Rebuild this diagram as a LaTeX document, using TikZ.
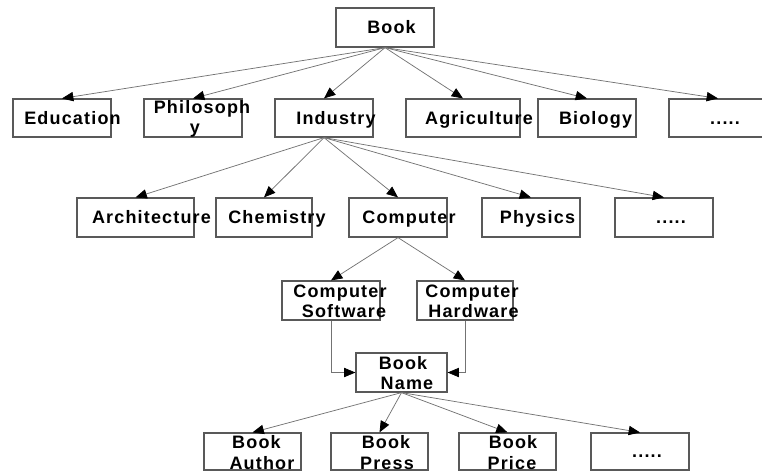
\documentclass[tikz,border=0pt]{standalone}
\usepackage{fontspec}
\newfontfamily\lblfont[LetterSpace=6.5]{Liberation Sans}
\usetikzlibrary{arrows.meta}
\begin{document}
\begin{tikzpicture}[x=0.75pt,y=-0.75pt,
  box/.style 2 args={draw=black!65,line width=0.9pt,minimum width={#1*0.75pt},minimum height={#2*0.75pt},inner sep=0pt},
  lbl/.style={anchor=base,inner sep=0pt,font=\lblfont\bfseries\fontsize{13.5}{15}\selectfont},
  conn/.style={draw=black!55,line width=0.55pt,-{Triangle[length=8.5pt,width=7pt,color=black]}}]
\useasboundingbox (0,0) rectangle (762,472);
\clip (0,0) rectangle (762,472);
% boxes
\node[box={98}{39}] (book) at (385,27.5) {};
\node[box={98}{38}] (edu) at (62,118) {};
\node[box={98}{38}] (phil) at (193,118) {};
\node[box={98}{38}] (ind) at (324,118) {};
\node[box={114}{38}] (agr) at (463,118) {};
\node[box={98}{38}] (bio) at (587,118) {};
\node[box={98}{38}] (dotsa) at (718,118) {};
\node[box={117}{39}] (arch) at (135.5,217.5) {};
\node[box={96}{39}] (chem) at (264,217.5) {};
\node[box={98}{39}] (comp) at (398,217.5) {};
\node[box={98}{39}] (phys) at (531,217.5) {};
\node[box={98}{39}] (dotsb) at (664,217.5) {};
\node[box={98}{39}] (sw) at (331,300.5) {};
\node[box={96}{39}] (hw) at (465,300.5) {};
\node[box={91}{39}] (bn) at (401.5,372.5) {};
\node[box={97}{37}] (auth) at (252.5,451.5) {};
\node[box={97}{37}] (press) at (379.5,451.5) {};
\node[box={97}{37}] (price) at (507.5,451.5) {};
\node[box={98}{37}] (dotsc) at (640,451.5) {};
% labels
\node[lbl] (tbook) at (391.5,33) {Book};
\node[lbl] (tedu) at (72.5,124) {Education};
\node[lbl] (tphila) at (202,113) {Philosoph};
\node[lbl] (tphilb) at (195,133) {y};
\node[lbl] (tind) at (336,124) {Industry};
\node[lbl] (tagr) at (479,124) {Agriculture};
\node[lbl] (tbio) at (595.5,124) {Biology};
\node[lbl] (tdotsa) at (725,124) {.....};
\node[lbl] (tarch) at (151.5,223) {Architecture};
\node[lbl] (tchem) at (277,223) {Chemistry};
\node[lbl] (tcomp) at (409,223) {Computer};
\node[lbl] (tphys) at (537.5,223) {Physics};
\node[lbl] (tdotsb) at (671,223) {.....};
\node[lbl] (tswa) at (340,297) {Computer};
\node[lbl] (tswb) at (344,317) {Software};
\node[lbl] (thwa) at (472,297) {Computer};
\node[lbl] (thwb) at (473.5,317) {Hardware};
\node[lbl] (tbna) at (403,369) {Book};
\node[lbl] (tbnb) at (407,389) {Name};
\node[lbl] (tautha) at (256.5,448) {Book};
\node[lbl] (tauthb) at (262,469) {Author};
\node[lbl] (tpressa) at (386,448) {Book};
\node[lbl] (tpressb) at (387,469) {Press};
\node[lbl] (tpricea) at (513,448) {Book};
\node[lbl] (tpriceb) at (512,469) {Price};
\node[lbl] (tdotsc) at (647,457) {.....};
% connectors
\foreach \t in {edu,phil,ind,agr,bio,dotsa}{\draw[conn] (book.south) -- (\t.north);}
\foreach \t in {arch,chem,comp,phys,dotsb}{\draw[conn] (ind.south) -- (\t.north);}
\foreach \t in {sw,hw}{\draw[conn] (comp.south) -- (\t.north);}
\draw[conn] (sw.south) |- (bn.west);
\draw[conn] (hw.south) |- (bn.east);
\foreach \t in {auth,press,price,dotsc}{\draw[conn] (bn.south) -- (\t.north);}
\end{tikzpicture}
\end{document}
